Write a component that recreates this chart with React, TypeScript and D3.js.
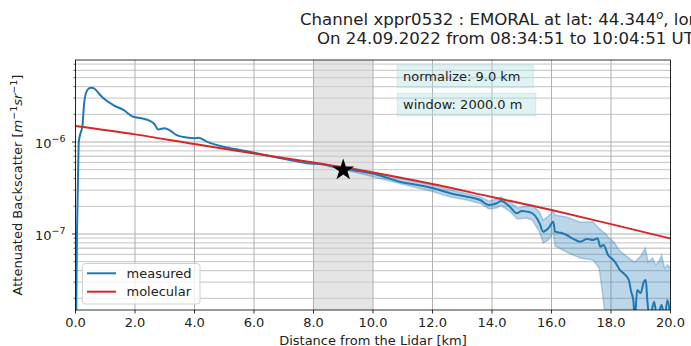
import React, { useEffect, useRef } from "react";
import * as d3 from "d3";

const W = 691;
const H = 346;
const M = { left: 75.5, right: 670.5, top: 60, bottom: 310 };

// measured attenuated backscatter
const measuredKm = [
  0.02, 0.05, 0.08, 0.11, 0.17, 0.23, 0.29, 0.35, 0.45, 0.54, 0.65, 0.8, 0.94, 1.27, 1.61, 1.94,
  2.22, 2.5, 2.65, 2.78, 3.0, 3.18, 3.4, 3.74, 4.0, 4.13, 4.41, 4.97, 5.53, 6.09, 6.65, 7.21,
  7.77, 8.33, 8.67, 9.0, 9.5, 10.0, 10.5, 10.9, 11.5, 12.03, 12.6, 13.15, 13.6, 13.88, 14.16,
  14.3, 14.6, 14.83, 15.0, 15.17, 15.35, 15.6, 15.72, 15.9, 16.06, 16.12, 16.3, 16.51, 16.7,
  16.96, 17.2, 17.4, 17.55, 17.64, 17.75, 17.9, 18.08, 18.2, 18.3, 18.45, 18.6, 18.68, 18.75,
  18.8, 18.88, 19.0, 19.1, 19.17, 19.22, 19.3, 19.45, 19.55, 19.7, 19.8, 19.9, 20.0,
];
const measuredVal = [
  1.0e-8, 1.0e-7, 3.41e-7, 1.0e-6, 1.25e-6, 1.47e-6, 2.63e-6, 3.38e-6, 3.82e-6, 3.89e-6, 3.77e-6,
  3.32e-6, 2.99e-6, 2.52e-6, 2.23e-6, 1.88e-6, 1.81e-6, 1.7e-6, 1.57e-6, 1.37e-6, 1.41e-6, 1.33e-6,
  1.19e-6, 1.12e-6, 1.1e-6, 1.11e-6, 1.01e-6, 8.89e-7, 8.18e-7, 7.54e-7, 6.92e-7, 6.37e-7, 5.87e-7,
  5.69e-7, 5.39e-7, 5.15e-7, 4.84e-7, 4.55e-7, 4.06e-7, 3.7e-7, 3.41e-7, 3.14e-7, 2.77e-7, 2.54e-7,
  2.34e-7, 2.07e-7, 2.16e-7, 2.28e-7, 1.98e-7, 1.68e-7, 1.78e-7, 1.75e-7, 1.68e-7, 1.31e-7, 1.06e-7,
  1.16e-7, 1.36e-7, 1.06e-7, 1.03e-7, 9.75e-8, 8.98e-8, 8.25e-8, 8.82e-8, 8.6e-8, 8.98e-8, 7.28e-8,
  7.59e-8, 5.91e-8, 5.22e-8, 4.61e-8, 4.06e-8, 3.67e-8, 3.16e-8, 2.34e-8, 1.92e-8, 1.2e-8, 2.46e-8,
  2.28e-8, 3.01e-8, 3.16e-8, 1.92e-8, 1.2e-8, 1.84e-8, 1.2e-8, 1.69e-8, 1.2e-8, 1.92e-8, 1.2e-8,
];

// uncertainty band
const bandKm = [
  8.5, 9.5, 10.5, 11.5, 12.0, 12.6, 13.15, 13.6, 13.9, 14.16, 14.3, 14.6, 14.85, 15.17, 15.35, 15.6,
  15.72, 15.9, 16.06, 16.12, 16.5, 16.96, 17.4, 17.6, 17.7, 17.85, 17.9, 18.1, 18.3, 18.6, 18.8,
  19.0, 19.15, 19.25, 19.4, 19.5, 19.6, 19.7, 19.8, 19.9, 20.0,
];
const bandHi = [
  5.6e-7, 5.09e-7, 4.32e-7, 3.67e-7, 3.41e-7, 3.01e-7, 2.75e-7, 2.52e-7, 2.28e-7, 2.4e-7, 2.52e-7,
  2.23e-7, 1.92e-7, 2.01e-7, 2.07e-7, 1.73e-7, 1.42e-7, 1.57e-7, 1.78e-7, 1.61e-7, 1.53e-7, 1.35e-7,
  1.35e-7, 1.15e-7, 1.08e-7, 9.8e-8, 9.28e-8, 8.18e-8, 6.53e-8, 5.48e-8, 4.96e-8, 5.77e-8, 7.04e-8,
  4.96e-8, 5.48e-8, 4.61e-8, 4.96e-8, 5.91e-8, 4.27e-8, 4.61e-8, 4.27e-8,
];
const bandLo = [
  5.4e-7, 4.61e-7, 3.82e-7, 3.16e-7, 2.9e-7, 2.52e-7, 2.34e-7, 2.15e-7, 1.87e-7, 1.92e-7, 2.04e-7,
  1.76e-7, 1.46e-7, 1.49e-7, 1.42e-7, 1.05e-7, 7.98e-8, 8.6e-8, 1.05e-7, 7.41e-8, 6.37e-8, 5.48e-8,
  5.22e-8, 4.27e-8, 2.46e-8, 1.0e-8, 1.0e-8, 1.0e-8, 1.0e-8, 1.0e-8, 1.0e-8, 1.0e-8, 1.0e-8, 1.0e-8,
  1.0e-8, 1.0e-8, 1.0e-8, 1.0e-8, 1.0e-8, 1.0e-8, 1.0e-8,
];

// molecular backscatter
const molecularKm = [0, 2, 4, 6, 8, 10, 12, 14, 16, 18, 20];
const molecularVal = [1.49e-6, 1.21e-6, 9.51e-7, 7.5e-7, 5.98e-7, 4.66e-7, 3.49e-7, 2.52e-7, 1.82e-7, 1.28e-7, 8.93e-8];

const xTicks = [0, 2, 4, 6, 8, 10, 12, 14, 16, 18, 20];
const yMajor = [1e-7, 1e-6];
const yMajorExp = ["\u22127", "\u22126"];
const normPoint = { km: 9.0, val: 4.96e-7 };
const normRange = [8, 10];
const infoTexts = ["normalize: 9.0 km", "window: 2000.0 m"];
const legendItems = [
  { name: "measured", color: "#1f77b4" },
  { name: "molecular", color: "#d62728" },
];

const FONT = "'DejaVu Sans', sans-serif";

const App: React.FC = () => {
  const svgRef = useRef<SVGSVGElement | null>(null);

  useEffect(() => {
    if (!svgRef.current) return;
    const svg = d3.select(svgRef.current);
    svg.selectAll("*").remove();

    const x = d3.scaleLinear().domain([0, 20]).range([M.left, M.right]);
    const y = d3.scaleLog().domain([1.493e-8, 7.78e-6]).range([M.bottom, M.top]);

    svg
      .append("defs")
      .append("clipPath")
      .attr("id", "plot-clip")
      .append("rect")
      .attr("x", M.left)
      .attr("y", M.top)
      .attr("width", M.right - M.left)
      .attr("height", M.bottom - M.top);

    // shaded normalisation window
    svg
      .append("rect")
      .attr("x", x(normRange[0]))
      .attr("y", M.top)
      .attr("width", x(normRange[1]) - x(normRange[0]))
      .attr("height", M.bottom - M.top)
      .attr("fill", "#a0a0a0")
      .attr("opacity", 0.28);

    // grid
    const grid = svg.append("g");
    const minor: number[] = [];
    for (let d = -8; d <= -6; d++) {
      for (let k = 2; k <= 9; k++) {
        const v = k * Math.pow(10, d);
        if (v > y.domain()[0] && v < y.domain()[1]) minor.push(v);
      }
    }
    grid
      .selectAll("line.minor")
      .data(minor)
      .join("line")
      .attr("x1", M.left)
      .attr("x2", M.right)
      .attr("y1", (d) => y(d))
      .attr("y2", (d) => y(d))
      .attr("stroke", "#cfcfcf")
      .attr("stroke-width", 1.3);
    grid
      .selectAll("line.majy")
      .data(yMajor)
      .join("line")
      .attr("x1", M.left)
      .attr("x2", M.right)
      .attr("y1", (d) => y(d))
      .attr("y2", (d) => y(d))
      .attr("stroke", "#b0b0b0")
      .attr("stroke-width", 1);
    grid
      .selectAll("line.majx")
      .data(xTicks)
      .join("line")
      .attr("x1", (d) => x(d))
      .attr("x2", (d) => x(d))
      .attr("y1", M.top)
      .attr("y2", M.bottom)
      .attr("stroke", "#b0b0b0")
      .attr("stroke-width", 1);

    const plot = svg.append("g").attr("clip-path", "url(#plot-clip)");

    const band = bandKm.map((k, i) => ({ k, lo: bandLo[i], hi: bandHi[i] }));
    plot
      .append("path")
      .attr(
        "d",
        d3
          .area<any>()
          .x((d) => x(d.k))
          .y0((d) => y(d.lo))
          .y1((d) => y(d.hi))(band)
      )
      .attr("fill", "#1f77b4")
      .attr("opacity", 0.3);
    [bandLo, bandHi].forEach((arr) => {
      plot
        .append("path")
        .attr(
          "d",
          d3
            .line<number>()
            .x((_, i) => x(bandKm[i]))
            .y((d) => y(d))(arr)
        )
        .attr("fill", "none")
        .attr("stroke", "#1f77b4")
        .attr("stroke-opacity", 0.3)
        .attr("stroke-width", 1.5);
    });

    plot
      .append("path")
      .attr(
        "d",
        d3
          .line<number>()
          .x((_, i) => x(measuredKm[i]))
          .y((d) => y(d))
          .curve(d3.curveMonotoneX)(measuredVal)
      )
      .attr("fill", "none")
      .attr("stroke", "#1f77b4")
      .attr("stroke-width", 2)
      .attr("stroke-linejoin", "round");

    plot
      .append("path")
      .attr(
        "d",
        d3
          .line<number>()
          .x((_, i) => x(molecularKm[i]))
          .y((d) => y(d))
          .curve(d3.curveMonotoneX)(molecularVal)
      )
      .attr("fill", "none")
      .attr("stroke", "#d62728")
      .attr("stroke-width", 2);

    plot
      .append("path")
      .attr("d", d3.symbol().type(d3.symbolStar).size(150)())
      .attr("transform", `translate(${x(normPoint.km)},${y(normPoint.val)})`)
      .attr("fill", "#000");

    // spines
    svg
      .append("rect")
      .attr("x", M.left)
      .attr("y", M.top)
      .attr("width", M.right - M.left)
      .attr("height", M.bottom - M.top)
      .attr("fill", "none")
      .attr("stroke", "#000")
      .attr("stroke-width", 0.8);

    // x ticks
    const xt = svg.append("g");
    xTicks.forEach((t) => {
      xt.append("line")
        .attr("x1", x(t))
        .attr("x2", x(t))
        .attr("y1", M.bottom)
        .attr("y2", M.bottom + 3.5)
        .attr("stroke", "#000")
        .attr("stroke-width", 0.8);
      xt.append("text")
        .attr("x", x(t))
        .attr("y", M.bottom + 17)
        .attr("text-anchor", "middle")
        .attr("font-family", FONT)
        .attr("font-size", 13)
        .attr("fill", "#222")
        .text(t.toFixed(1));
    });

    // y ticks
    const yt = svg.append("g");
    minor.forEach((v) => {
      yt.append("line")
        .attr("x1", M.left - 2)
        .attr("x2", M.left)
        .attr("y1", y(v))
        .attr("y2", y(v))
        .attr("stroke", "#000")
        .attr("stroke-width", 0.6);
    });
    yMajor.forEach((v, i) => {
      yt.append("line")
        .attr("x1", M.left - 3.5)
        .attr("x2", M.left)
        .attr("y1", y(v))
        .attr("y2", y(v))
        .attr("stroke", "#000")
        .attr("stroke-width", 0.8);
      const tx = yt
        .append("text")
        .attr("x", M.left - 10)
        .attr("y", y(v) + 6)
        .attr("text-anchor", "end")
        .attr("font-family", FONT)
        .attr("font-size", 13)
        .attr("fill", "#222");
      tx.append("tspan").text("10");
      tx.append("tspan").attr("dy", -6).attr("font-size", 9.5).text(yMajorExp[i]);
    });

    // info boxes
    infoTexts.forEach((t, i) => {
      const top = 65 + i * 28.3;
      svg
        .append("rect")
        .attr("x", 397.3)
        .attr("y", top)
        .attr("width", i === 0 ? 136 : 138.5)
        .attr("height", 22.7)
        .attr("fill", "#b0e0e6")
        .attr("fill-opacity", 0.4)
        .attr("stroke", "#b0e0e6")
        .attr("stroke-opacity", 0.5);
      svg
        .append("text")
        .attr("x", 403)
        .attr("y", top + 16)
        .attr("font-family", FONT)
        .attr("font-size", 13)
        .attr("fill", "#222")
        .text(t);
    });

    // legend
    const lg = svg.append("g");
    lg.append("rect")
      .attr("x", 82.5)
      .attr("y", 263.5)
      .attr("width", 117.5)
      .attr("height", 40.5)
      .attr("rx", 3)
      .attr("fill", "#fff")
      .attr("fill-opacity", 0.8)
      .attr("stroke", "#d0d0d0")
      .attr("stroke-width", 1);
    legendItems.forEach((it, i) => {
      const cy = 273.3 + i * 18.4;
      lg.append("line")
        .attr("x1", 87)
        .attr("x2", 116)
        .attr("y1", cy)
        .attr("y2", cy)
        .attr("stroke", it.color)
        .attr("stroke-width", 2);
      lg.append("text")
        .attr("x", 126.5)
        .attr("y", cy + 4.7)
        .attr("font-family", FONT)
        .attr("font-size", 13)
        .attr("fill", "#222")
        .text(it.name);
    });

    // axis labels
    svg
      .append("text")
      .attr("x", (M.left + M.right) / 2)
      .attr("y", 345)
      .attr("text-anchor", "middle")
      .attr("font-family", FONT)
      .attr("font-size", 13)
      .attr("fill", "#222")
      .text("Distance from the Lidar [km]");

    const yl = svg
      .append("text")
      .attr("transform", `translate(21.5,${(M.top + M.bottom) / 2}) rotate(-90)`)
      .attr("text-anchor", "middle")
      .attr("font-family", FONT)
      .attr("font-size", 13)
      .attr("fill", "#222");
    yl.append("tspan").text("Attenuated Backscatter [");
    yl.append("tspan").attr("font-style", "italic").text("m");
    yl.append("tspan").attr("dy", -5).attr("font-size", 9.5).text("\u22121");
    yl.append("tspan").attr("dy", 5).attr("font-style", "italic").text("sr");
    yl.append("tspan").attr("dy", -5).attr("font-size", 9.5).text("\u22121");
    yl.append("tspan").attr("dy", 5).text("]");

    // title
    const t1 = svg
      .append("text")
      .attr("x", 300)
      .attr("y", 25)
      .attr("font-family", FONT)
      .attr("font-size", 16.6)
      .attr("fill", "#222");
    t1.append("tspan").text("Channel xppr0532 : EMORAL at lat: 44.344");
    t1.append("tspan").attr("dy", -6).attr("font-size", 11.5).attr("font-style", "italic").text("o");
    t1.append("tspan").attr("dy", 6).text(", lon: 26.029");
    svg
      .append("text")
      .attr("x", 317)
      .attr("y", 43.5)
      .attr("font-family", FONT)
      .attr("font-size", 16.6)
      .attr("fill", "#222")
      .text("On 24.09.2022 from 08:34:51 to 10:04:51 UTC");
  }, []);

  return (
    <svg
      ref={svgRef}
      width={W}
      height={H}
      style={{ position: "absolute", left: 0, top: 0, background: "#fff" }}
    />
  );
};

export default App;
